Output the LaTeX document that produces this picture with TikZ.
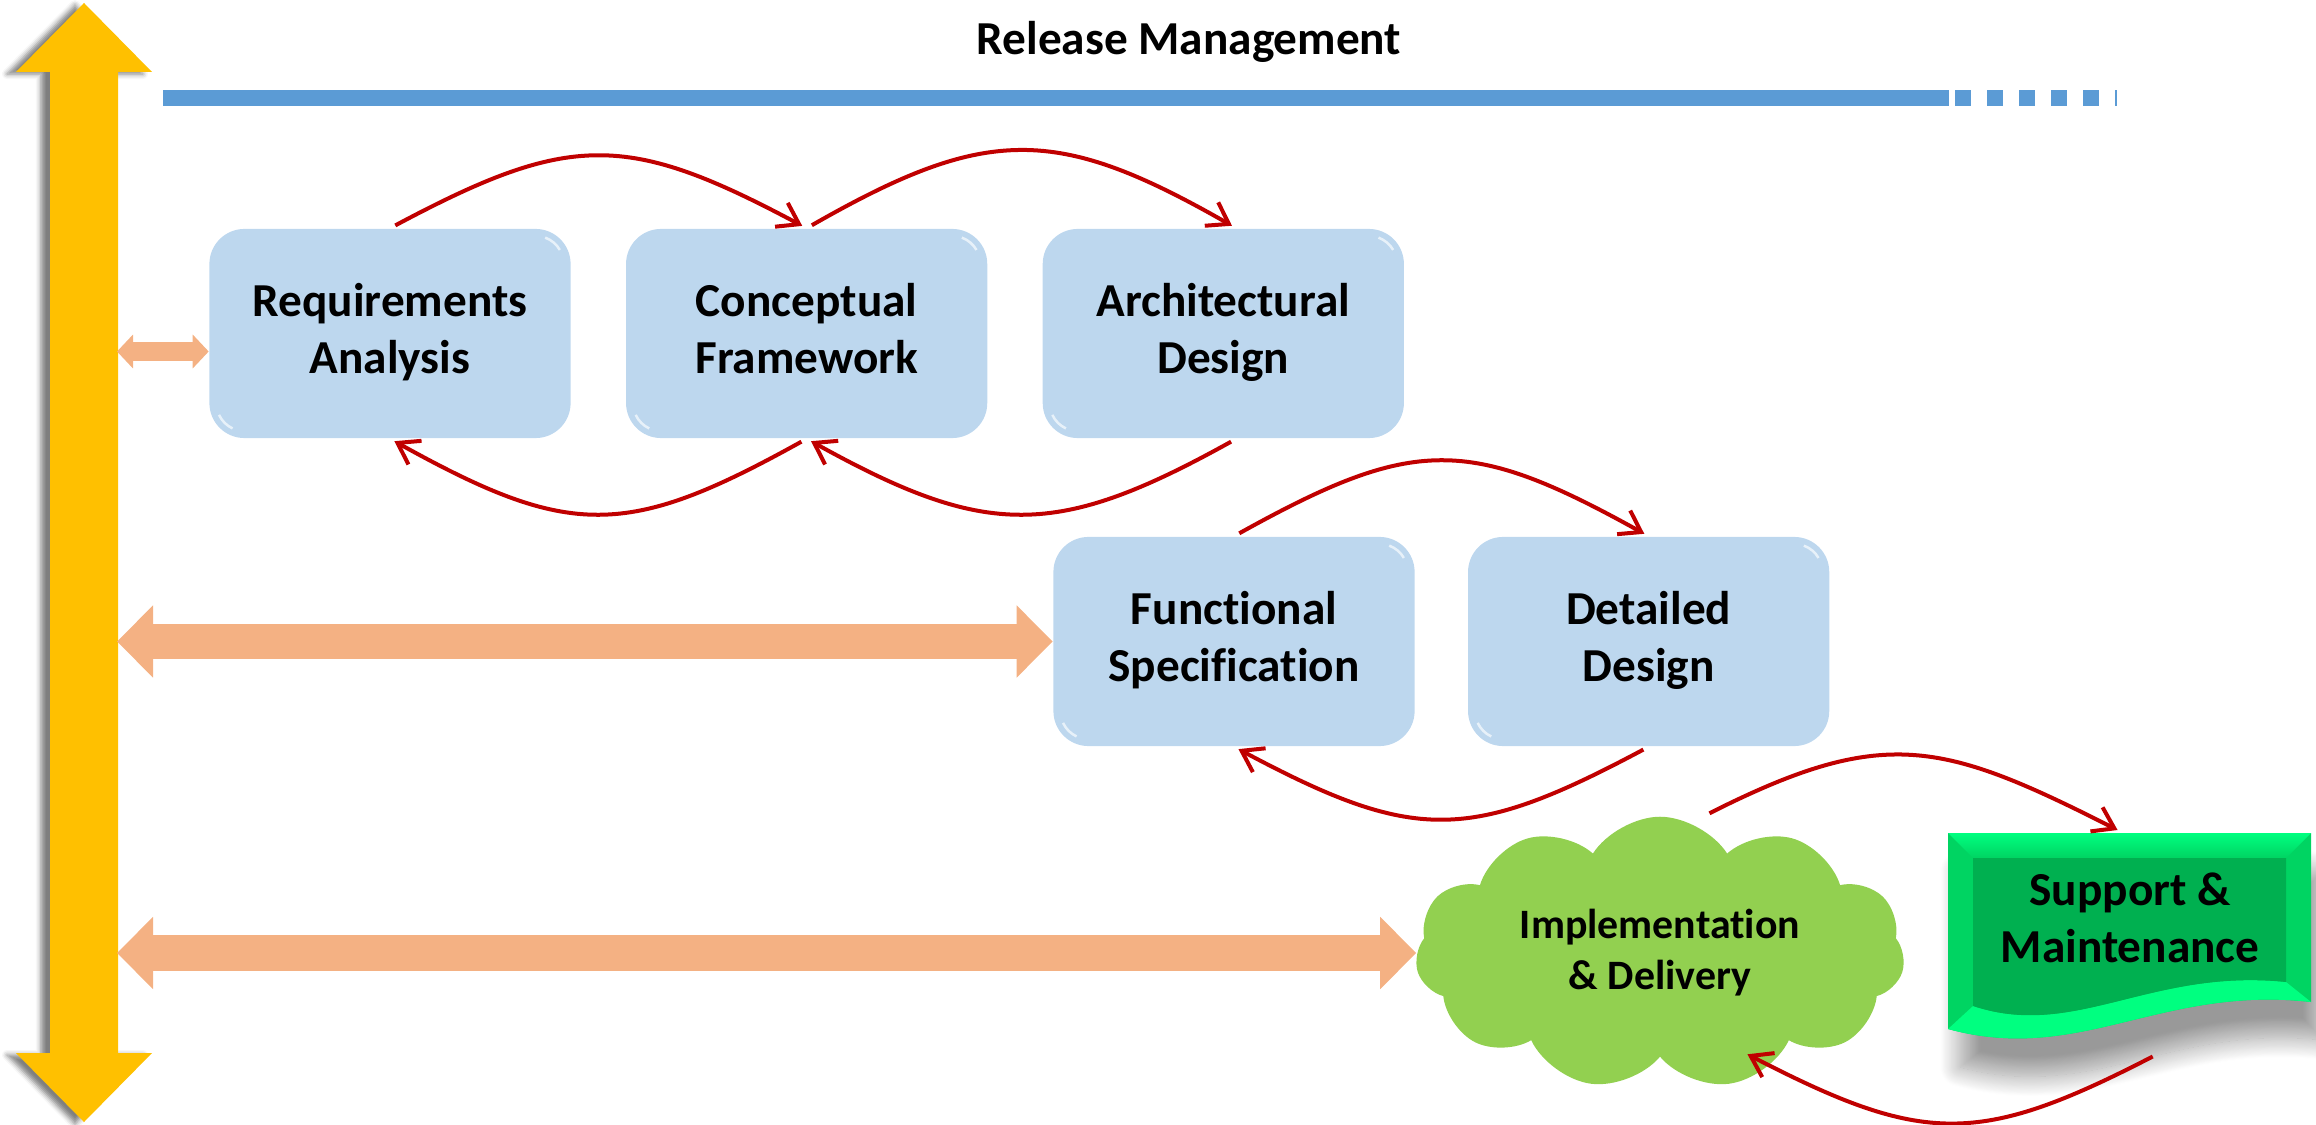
\documentclass[tikz,border=0pt]{standalone}
\usepackage{fontspec}
\setmainfont{Carlito}[Ligatures=NoCommon]
\usetikzlibrary{positioning,arrows.meta,shapes.symbols,shadows.blur}

\definecolor{phaseblue}{HTML}{BDD7EE}
\definecolor{flowred}{HTML}{C00000}
\definecolor{railyellow}{HTML}{FFC000}
\definecolor{linkorange}{HTML}{F4B183}
\definecolor{releaseblue}{HTML}{5B9BD5}
\definecolor{cloudgreen}{HTML}{92D050}
\definecolor{suppgreen}{HTML}{00B050}
\definecolor{suppside}{HTML}{00D462}
\definecolor{suppedge}{HTML}{00FF80}

\newcommand\phasefont{\bfseries\fontsize{13.45}{16.2}\selectfont}
\newcommand\cloudfont{\bfseries\fontsize{11.9}{14.5}\selectfont}

\tikzset{
  phase/.style={rectangle, rounded corners=0.35cm, fill=phaseblue, minimum width=3.61cm,
    minimum height=2.09cm, align=center, font=\phasefont, inner sep=0pt,
    execute at begin node={\rule{0pt}{0.88em}}, execute at end node={\rule[-0.2em]{0pt}{0.2em}},
    path picture={
      \draw[white, line width=0.025cm, opacity=0.65]
        ([shift={(-0.35cm,-0.35cm)}]path picture bounding box.north east) ++(30:0.28cm)
        arc[start angle=30, end angle=70, radius=0.28cm];
      \draw[white, line width=0.025cm, opacity=0.65]
        ([shift={(0.35cm,0.35cm)}]path picture bounding box.south west) ++(205:0.28cm)
        arc[start angle=205, end angle=245, radius=0.28cm];
    }},
  flow/.style={draw=flowred, line width=0.04cm, -{Straight Barb[length=0.2cm,width=0.27cm]},
    shorten <=0.06cm, shorten >=0.05cm},
  sidelink/.style={draw=linkorange, line width=0.35cm,
    {Triangle[length=0.36cm,width=0.7cm]}-{Triangle[length=0.36cm,width=0.7cm]}},
  sidelinkthin/.style={draw=linkorange, line width=0.19cm,
    {Triangle[length=0.16cm,width=0.33cm]}-{Triangle[length=0.16cm,width=0.33cm]}},
}

\begin{document}
\begin{tikzpicture}[x=0.01cm, y=-0.01cm]
  \useasboundingbox (0,0) rectangle (2316,1125);

  % release management line
  \node[font=\phasefont, anchor=base] (release) at (1189,55) {Release Management};
  \draw[releaseblue, line width=0.16cm] (163,98) -- (1949,98);
  \draw[releaseblue, line width=0.16cm, dash pattern=on 0.16cm off 0.16cm] (1955,98) -- (2117,98);

  % yellow axis
  \fill[railyellow, blur shadow={shadow xshift=-0.09cm, shadow yshift=-0.02cm,
      shadow blur radius=0.05cm, shadow opacity=50}]
    (84,3) -- (152,72) -- (118,72) -- (118,1053) -- (152,1053) -- (84,1122)
    -- (16,1053) -- (50,1053) -- (50,72) -- (16,72) -- cycle;
  \coordinate (barR) at (117,0);

  % phases
  \node[phase] (req) at (390,333.5) {Requirements\\Analysis};
  \node[phase, right=0.54cm of req] (conc) {Conceptual\\Framework};
  \node[phase, right=0.54cm of conc] (arch) {Architectural\\Design};
  \node[phase] (func) at (1234,641.5) {Functional\\Specification};
  \node[phase, right=0.52cm of func] (det) {Detailed\\Design};

  \node[cloud, cloud puffs=11, cloud puff arc=115, aspect=1.8, fill=cloudgreen,
    minimum width=4.89cm, minimum height=2.67cm, align=center, font=\cloudfont,
    inner sep=0pt] (impl) at (1660,953) {Implementation\\\& Delivery};

  % support box
  \fill[suppside, blur shadow={shadow xshift=0.12cm, shadow yshift=-0.38cm,
      shadow blur radius=0.2cm, shadow blur steps=24, shadow opacity=40}]
    (1948,833) -- (2311,833) -- (2311,1002) .. controls (2160,985) and (2080,1065) .. (1948,1029) -- cycle;
  \shade[top color=suppedge, bottom color=suppside] (1948,833) -- (2311,833) -- (2286,858) -- (1973,858) -- cycle;
  \fill[suppedge] (2311,1002) .. controls (2160,985) and (2080,1065) .. (1948,1029)
    -- (1973,1006) .. controls (2075,1040) and (2150,968) .. (2286,982) -- cycle;
  \fill[suppgreen] (1973,858) -- (2286,858) -- (2286,982)
    .. controls (2150,968) and (2075,1040) .. (1973,1006) -- cycle;
  \node[align=center, font=\phasefont, minimum width=3.63cm, minimum height=1.69cm,
    inner sep=0pt] (supp) at (2130,917.5) {Support \&\\Maintenance};

  % links to the axis
  \coordinate (reqin) at ([yshift=-0.18cm]req.west);
  \draw[sidelinkthin] (barR |- reqin) -- (reqin);
  \draw[sidelink] (barR |- func.west) -- (func.west);
  \draw[sidelink] (barR |- impl.west) -- (impl.west);

  % iterations
  \draw[flow] (req.north) .. controls +(180,-96) and +(-180,-96) .. (conc.north);
  \draw[flow] (conc.north) .. controls +(180,-103) and +(-180,-103) .. ([xshift=0.13cm]arch.north);
  \draw[flow] ([xshift=0.13cm]arch.south) .. controls +(-180,100) and +(180,100) .. (conc.south);
  \draw[flow] (conc.south) .. controls +(-180,100) and +(180,100) .. (req.south);
  \draw[flow] (func.north) .. controls +(180,-100) and +(-180,-100) .. (det.north);
  \draw[flow] (det.south) .. controls +(-180,96) and +(180,96) .. (func.south);
  \draw[flow] ([xshift=0.44cm]impl.north) .. controls +(180,-91) and +(-180,-91) .. ([xshift=-0.08cm]supp.north);
  \draw[flow] ([shift={(28,51)}]supp.south) .. controls +(-180,93) and +(180,93) .. ([shift={(83,99)}]impl.center);
\end{tikzpicture}
\end{document}
